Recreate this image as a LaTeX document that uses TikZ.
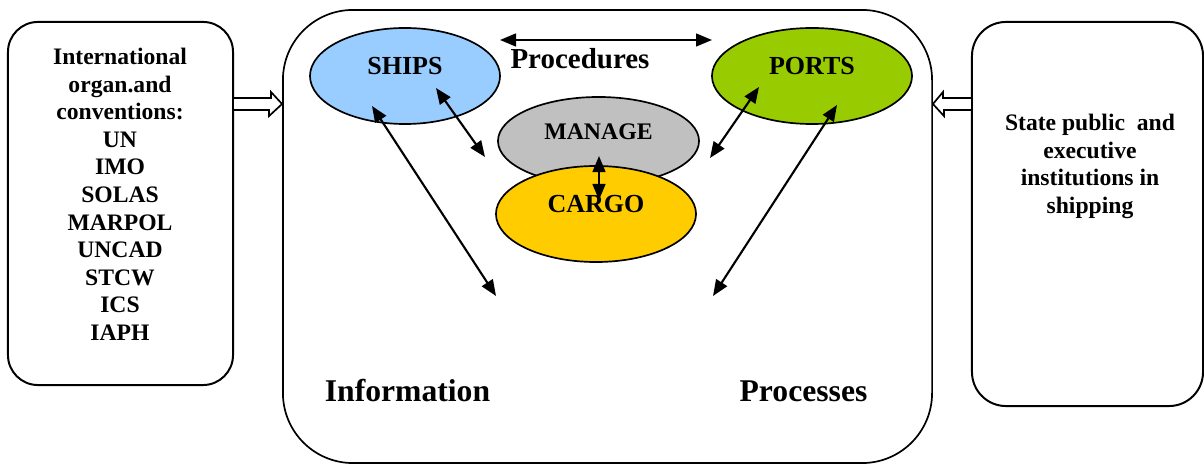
\documentclass[tikz,border=0pt]{standalone}
\usepackage{fontspec}
\setmainfont{Liberation Serif}
\usetikzlibrary{arrows.meta}
\usetikzlibrary{shapes}

\definecolor{shipsBlue}{HTML}{99CCFF}
\definecolor{portsGreen}{HTML}{99CC00}
\definecolor{manageGray}{HTML}{C0C0C0}
\definecolor{cargoYellow}{HTML}{FFCC00}

\begin{document}
\begin{tikzpicture}[x = 0.025cm, y = -0.025cm]
	\tikzstyle{boxStyle} = [draw, line width = 1.4pt, inner sep = 0pt]
	\tikzstyle{ovalStyle} = [draw, ellipse, line width = 1.2pt, inner sep = 0pt]
	\tikzstyle{listStyle} = [align = center, inner sep = 0pt, anchor = north, font = \fontsize{16.8}{19.6}\selectfont\bfseries]
	\tikzstyle{ovalText} = [inner sep = 0pt, font = \fontsize{18.5}{20}\selectfont\bfseries]
	\tikzstyle{bigText} = [anchor = base, inner sep = 0pt, font = \fontsize{22.5}{24}\selectfont\bfseries]
	\tikzstyle{linkStyle} = [{Triangle[length = 0.4cm, width = 0.32cm]}-{Triangle[length = 0.4cm, width = 0.32cm]}, line width = 1.5pt]
	\tikzstyle{feedStyle} = [line width = 1.2pt, fill = white]

	\useasboundingbox (0,0) rectangle (1204,464);

	% frames
	\node[boxStyle, rounded corners = 0.75cm, minimum width = 5.625cm, minimum height = 9.075cm] (intl) at (120.5,203.5) {};
	\node[boxStyle, rounded corners = 0.85cm, minimum width = 5.775cm, minimum height = 9.6cm] (state) at (1087.5,214) {};
	\node[boxStyle, line width = 1.2pt, rounded corners = 1.75cm, minimum width = 16.225cm, minimum height = 11.325cm] (hub) at (607.5,236.5) {};

	\node[listStyle] (intlText) at (120,48) {International\\organ.and\\conventions:\\UN\\IMO\\SOLAS\\MARPOL\\UNCAD\\STCW\\ICS\\IAPH};
	\node[listStyle] (stateText) at (1090,114) {State public~ and\\executive\\institutions in\\shipping};

	% hollow arrows into the hub
	\draw[feedStyle] (intl.east |- 0,98) -- ++(37,0) -- ++(0,-6) -- (hub.west |- 0,104) -- ++(-13,12) -- ++(0,-6) -- (intl.east |- 0,110);
	\draw[feedStyle] (state.west |- 0,98) -- ++(-28,0) -- ++(0,-6) -- (hub.east |- 0,104) -- ++(11,12) -- ++(0,-6) -- (state.west |- 0,110);

	% ovals
	\node[ovalStyle, fill = shipsBlue, minimum width = 4.75cm, minimum height = 2.4cm, label = {[ovalText, yshift = 0.25cm]center:SHIPS}] (ships) at (405,76) {};
	\node[ovalStyle, fill = portsGreen, minimum width = 5cm, minimum height = 2.4cm, label = {[ovalText, yshift = 0.25cm]center:PORTS}] (ports) at (812,76) {};
	\node[ovalStyle, fill = manageGray, minimum width = 5.025cm, minimum height = 2.2cm, label = {[ovalText, yshift = 0.225cm, font = \fontsize{16.9}{18}\selectfont\bfseries]center:MANAGE}] (manage) at (598.5,141) {};
	\node[ovalStyle, fill = cargoYellow, minimum width = 5cm, minimum height = 2.4cm, label = {[ovalText, yshift = 0.25cm]center:CARGO}] (cargo) at (596,214) {};

	\node[bigText, font = \fontsize{20.6}{22}\selectfont\bfseries] (procedures) at (580,69) {Procedures};
	\node[bigText] (information) at (407.5,402) {Information};
	\node[bigText] (processes) at (803.5,402) {Processes};

	% arrow ends
	\coordinate (procL) at (500,40);
	\coordinate (procR) at (712,40);
	\coordinate (shipsA) at (436,88);
	\coordinate (manageL) at (485,157);
	\coordinate (shipsB) at (372,106);
	\coordinate (infoEnd) at (496,296);
	\coordinate (portsA) at (759,87);
	\coordinate (manageR) at (710,158);
	\coordinate (portsB) at (837,105);
	\coordinate (procEnd) at (713,296);
	\coordinate (manageIn) at (599,156);
	\coordinate (cargoIn) at (599,200);

	\draw[linkStyle] (procL) -- (procR);
	\draw[linkStyle] (shipsA) -- (manageL);
	\draw[linkStyle] (shipsB) -- (infoEnd);
	\draw[linkStyle] (portsA) -- (manageR);
	\draw[linkStyle] (portsB) -- (procEnd);
	\draw[linkStyle] (manageIn) -- (cargoIn);
\end{tikzpicture}
\end{document}
